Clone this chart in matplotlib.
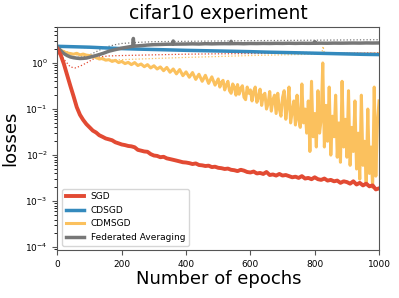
import matplotlib
matplotlib.use('Agg')
import matplotlib.pyplot as plt

# SGD (train = solid, test = dotted)
sgd_x = list(range(0, 200, 10)) + list(range(200, 1001, 10))
sgd_y = [2.0, 1.5, 0.95, 0.55, 0.32, 0.19, 0.11, 0.075, 0.058, 0.047,
         0.04, 0.034, 0.031, 0.027, 0.025, 0.023, 0.022, 0.021, 0.019, 0.018,
         0.017, 0.0165, 0.0158, 0.0155, 0.0148, 0.013, 0.0125, 0.012, 0.0118, 0.0105,
         0.0098, 0.0096, 0.009, 0.0092, 0.0085, 0.0082, 0.0079, 0.0076, 0.0073, 0.007,
         0.0069, 0.0067, 0.0064, 0.0066, 0.0061, 0.006, 0.0058, 0.0059, 0.0055, 0.0056,
         0.0053, 0.0052, 0.005, 0.0051, 0.0048, 0.0047, 0.0045, 0.0048, 0.0046, 0.0043,
         0.0042, 0.0044, 0.004, 0.0041, 0.0039, 0.0043, 0.0037, 0.0038, 0.0036, 0.0039,
         0.0036, 0.0037, 0.0035, 0.0033, 0.0034, 0.0032, 0.0035, 0.0031, 0.0032, 0.003,
         0.0033, 0.003, 0.0029, 0.0031, 0.0028, 0.0029, 0.0027, 0.0028, 0.0025, 0.0027,
         0.0026, 0.0024, 0.0027, 0.0023, 0.0025, 0.0022, 0.0024, 0.0021, 0.0022, 0.0018,
         0.0019]
sgd_test_x = [0, 20, 40, 55, 70, 90, 110, 130, 160, 200, 300, 400, 500, 600, 800, 1000]
sgd_test_y = [2.0, 1.2, 0.82, 0.78, 0.85, 1.0, 1.2, 1.35, 1.42, 1.45, 1.5, 1.55, 1.58, 1.6, 1.63, 1.66]

# CDSGD
cdsgd_x = [0, 50, 100, 150, 200, 250, 300, 350, 400, 450, 500, 550, 600, 650, 700, 750, 800, 850, 900, 950, 1000]
cdsgd_y = [2.3, 2.25, 2.2, 2.12, 2.05, 2.0, 1.96, 1.92, 1.88, 1.85, 1.82, 1.79, 1.76, 1.72, 1.69, 1.66,
           1.63, 1.6, 1.57, 1.54, 1.52]
cdsgd_test_y = [2.25, 2.2, 2.15, 2.08, 2.02, 1.98, 1.95, 1.92, 1.89, 1.86, 1.83, 1.8, 1.78, 1.75, 1.72,
                1.7, 1.68, 1.66, 1.64, 1.62, 1.6]

# CDMSGD
cdmsgd_x = list(range(0, 500, 10)) + list(range(500, 1001, 5))
cdmsgd_y = [2.1, 1.9, 1.75, 1.65, 1.6, 1.55, 1.62, 1.5, 1.56, 1.48,
            1.45, 1.38, 1.32, 1.22, 1.25, 1.15, 1.18, 1.08, 1.14, 1.02,
            1.08, 0.97, 1.03, 0.92, 1.02, 0.88, 0.95, 0.83, 0.92, 0.78,
            0.87, 0.74, 0.82, 0.68, 0.8, 0.63, 0.74, 0.58, 0.72, 0.53,
            0.64, 0.49, 0.62, 0.44, 0.57, 0.4, 0.54, 0.36, 0.5, 0.33,
            0.45, 0.3, 0.38, 0.42, 0.26, 0.33, 0.4, 0.25, 0.22, 0.35,
            0.3, 0.2, 0.34, 0.21, 0.28, 0.32, 0.18, 0.16, 0.3, 0.22,
            0.26, 0.15, 0.24, 0.3, 0.14, 0.18, 0.27, 0.12, 0.2, 0.22,
            0.1, 0.13, 0.24, 0.09, 0.16, 0.2, 0.08, 0.22, 0.1, 0.07,
            0.18, 0.25, 0.06, 0.12, 0.3, 0.05, 0.09, 0.15, 0.045, 0.2,
            0.06, 0.04, 0.35, 0.05, 0.1, 0.03, 0.15, 0.012, 0.4, 0.025,
            0.08, 0.015, 0.25, 0.03, 0.06, 1.0, 0.015, 0.12, 0.02, 0.3,
            0.01, 0.07, 0.025, 0.2, 0.009, 0.05, 0.007, 0.4, 0.015, 0.06,
            0.009, 0.25, 0.006, 0.04, 0.012, 0.15, 0.005, 0.03, 0.003, 0.2,
            0.006, 0.02, 0.0025, 0.1, 0.004, 0.015, 0.002, 0.3, 0.0035, 0.05,
            0.15]
cdmsgd_test_x = [0, 50, 100, 150, 200, 300, 400, 500, 600, 700, 800, 822, 826, 830, 900, 1000]
cdmsgd_test_y = [2.1, 1.55, 1.3, 1.15, 1.18, 1.25, 1.32, 1.38, 1.45, 1.5, 1.55, 1.6, 2.3, 1.6, 1.62, 1.66]

# Federated Averaging
fedavg_x = [0, 10, 20, 30, 40, 50, 60, 70, 80, 90, 100, 120, 140, 160, 180, 200, 220,
            234, 236, 238, 260, 280, 300, 320, 340, 358, 360, 362, 380, 400, 420, 440,
            460, 480, 500, 520, 538, 540, 542, 560, 580, 600, 620, 640, 660, 680, 700,
            720, 740, 760, 780, 798, 800, 802, 820, 840, 860, 880, 900, 920, 940, 960,
            980, 1000]
fedavg_y = [2.2, 1.85, 1.6, 1.45, 1.35, 1.3, 1.27, 1.25, 1.26, 1.28, 1.33, 1.45, 1.6, 1.8,
            1.95, 2.1, 2.22, 2.3, 3.4, 2.32, 2.38, 2.45, 2.5, 2.52, 2.55, 2.56, 3.0, 2.56,
            2.57, 2.58, 2.6, 2.58, 2.62, 2.6, 2.62, 2.63, 2.62, 2.95, 2.63, 2.64, 2.62, 2.65,
            2.64, 2.66, 2.65, 2.67, 2.66, 2.68, 2.66, 2.68, 2.67, 2.68, 2.9, 2.68, 2.69, 2.68,
            2.7, 2.69, 2.7, 2.71, 2.7, 2.72, 2.71, 2.72]
fedavg_test_x = [0, 20, 40, 60, 80, 100, 120, 140, 160, 180, 200, 250, 300, 400, 500,
                 600, 700, 800, 900, 1000]
fedavg_test_y = [2.2, 1.65, 1.4, 1.33, 1.35, 1.5, 1.75, 2.05, 2.3, 2.5, 2.65, 2.8, 2.9,
                 2.95, 3.0, 3.05, 3.08, 3.12, 3.16, 3.2]

red, blue, orange, gray = '#E24A33', '#348ABD', '#FBC15E', '#777777'

fig = plt.figure(figsize=(3.99, 2.98), dpi=100)
ax = fig.add_axes([0.144, 0.161, 0.806, 0.748])

ax.plot(sgd_test_x, sgd_test_y, ':', color=red, lw=0.9)
ax.plot(cdsgd_x, cdsgd_test_y, ':', color=blue, lw=0.9)
ax.plot(cdmsgd_test_x, cdmsgd_test_y, ':', color=orange, lw=0.9)
ax.plot(fedavg_test_x, fedavg_test_y, ':', color=gray, lw=0.9)

ax.plot(cdmsgd_x, cdmsgd_y, color=orange, lw=2.2, label='CDMSGD')
ax.plot(cdsgd_x, cdsgd_y, color=blue, lw=2.5, label='CDSGD')
ax.plot(fedavg_x, fedavg_y, color=gray, lw=2.5, label='Federated Averaging')
ax.plot(sgd_x, sgd_y, color=red, lw=2.8, label='SGD')

ax.set_yscale('log')
ax.set_xlim(0, 1000)
ax.set_ylim(10 ** -4.06, 6)
ax.set_title('cifar10 experiment', fontsize=13.5)
ax.set_xlabel('Number of epochs', fontsize=13, labelpad=1)
ax.set_ylabel('losses', fontsize=13)
ax.tick_params(labelsize=6.5, color='#555555')
for s in ax.spines.values():
    s.set_color('#555555')

h, l = ax.get_legend_handles_labels()
order = [3, 1, 0, 2]
ax.legend([h[i] for i in order], [l[i] for i in order], loc='lower left', fontsize=6.5)

fig.savefig('out.png', dpi=100)
